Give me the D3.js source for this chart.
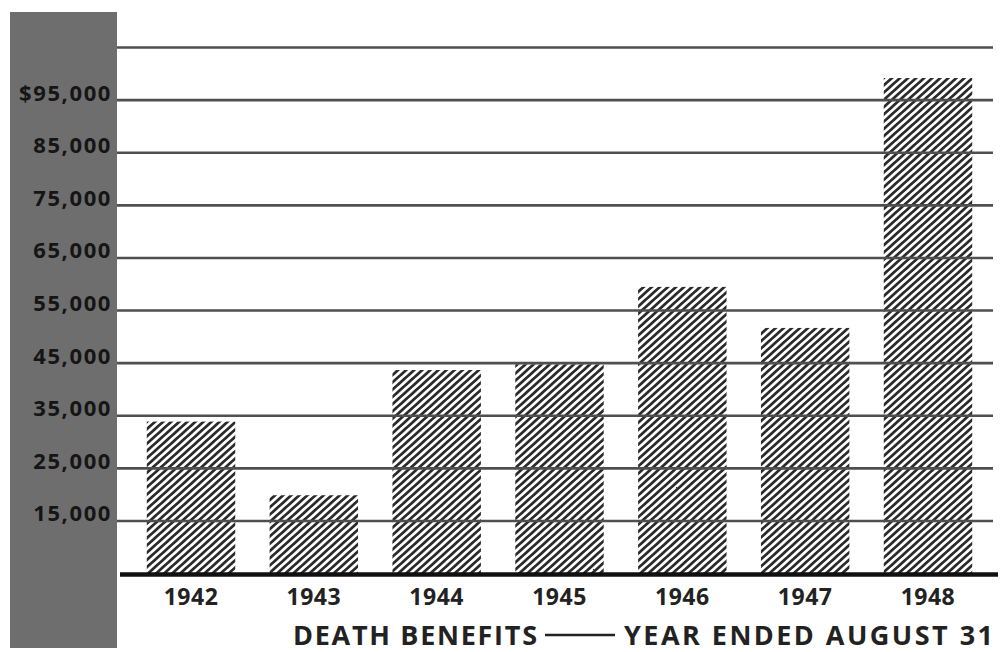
<!DOCTYPE html>
<html>
<head>
<meta charset="utf-8">
<script src="https://cdn.jsdelivr.net/npm/d3@7"></script>
<style>
  html, body { margin: 0; padding: 0; background: #ffffff; }
  svg { display: block; }
  text { font-family: "Open Sans", "DejaVu Sans", sans-serif; font-weight: 700; fill: #222; }
</style>
</head>
<body>
<svg id="chart" width="1003" height="652"></svg>
<script>
// Death benefits paid, fiscal years ended August 31
const years = ["1942", "1943", "1944", "1945", "1946", "1947", "1948"];
const benefits = [33800, 19800, 43600, 44700, 59400, 51600, 99100];

// Ruled lines and their labels (the top rule carries no label)
const gridValues = [105000, 95000, 85000, 75000, 65000, 55000, 45000, 35000, 25000, 15000];
const gridLabels = ["", "$95,000", "85,000", "75,000", "65,000", "55,000", "45,000", "35,000", "25,000", "15,000"];

const titleLeft = "DEATH BENEFITS";
const titleRight = "YEAR ENDED AUGUST 31";

const svg = d3.select("#chart");

const x = d3.scaleBand()
  .domain(years)
  .range([112.4, 1006.6])
  .paddingInner(0.28)
  .paddingOuter(0.28);

const y = d3.scaleLinear()
  .domain([5000, 105000])
  .range([573.1, 47]);

// Diagonal hatching used to fill the bars
const defs = svg.append("defs");
const pat = defs.append("pattern")
  .attr("id", "hatch")
  .attr("patternUnits", "userSpaceOnUse")
  .attr("width", 5.4)
  .attr("height", 10)
  .attr("patternTransform", "rotate(48)");
pat.append("rect").attr("width", 5.4).attr("height", 10).attr("fill", "#ffffff");
pat.append("rect").attr("width", 2.7).attr("height", 10).attr("fill", "#2b2b2b");

// Gray band behind the value labels
svg.append("rect")
  .attr("x", 10).attr("y", 12)
  .attr("width", 107).attr("height", 636)
  .attr("fill", "#6e6e6e");

// Bars
svg.append("g")
  .selectAll("rect")
  .data(years)
  .join("rect")
  .attr("x", d => x(d))
  .attr("width", x.bandwidth())
  .attr("y", (d, i) => y(benefits[i]))
  .attr("height", (d, i) => y(5000) - y(benefits[i]))
  .attr("fill", "url(#hatch)");

// Horizontal rules with value labels, drawn over the bars
const axis = d3.axisLeft(y)
  .tickValues(gridValues)
  .tickFormat((d, i) => gridLabels[i])
  .tickSize(-(993 - 117))
  .tickPadding(5);

const gAxis = svg.append("g")
  .attr("transform", "translate(117,0)")
  .call(axis);
gAxis.select(".domain").remove();
gAxis.selectAll(".tick line")
  .attr("stroke", "#4f4f4f")
  .attr("stroke-width", 2.6);
gAxis.selectAll(".tick text")
  .attr("dy", "0.02em")
  .attr("x", -5)
  .style("font-size", "22px")
  .style("letter-spacing", "1.6px")
  .style("fill", "#151515");

// Base line
svg.append("line")
  .attr("x1", 120).attr("x2", 998)
  .attr("y1", y(5000) + 1.5).attr("y2", y(5000) + 1.5)
  .attr("stroke", "#111")
  .attr("stroke-width", 4.5);

// Year labels
svg.append("g")
  .selectAll("text")
  .data(years)
  .join("text")
  .attr("x", d => x(d) + x.bandwidth() / 2)
  .attr("y", 605)
  .attr("text-anchor", "middle")
  .style("font-size", "23px")
  .style("letter-spacing", "0.5px")
  .text(d => d);

// Caption
svg.append("text")
  .attr("x", 293).attr("y", 645)
  .style("font-size", "27px")
  .attr("textLength", 244)
  .attr("lengthAdjust", "spacing")
  .text(titleLeft);

svg.append("line")
  .attr("x1", 545).attr("x2", 615)
  .attr("y1", 635).attr("y2", 635)
  .attr("stroke", "#222")
  .attr("stroke-width", 2.4);

svg.append("text")
  .attr("x", 624).attr("y", 645)
  .style("font-size", "27px")
  .attr("textLength", 369)
  .attr("lengthAdjust", "spacing")
  .text(titleRight);
</script>
</body>
</html>
